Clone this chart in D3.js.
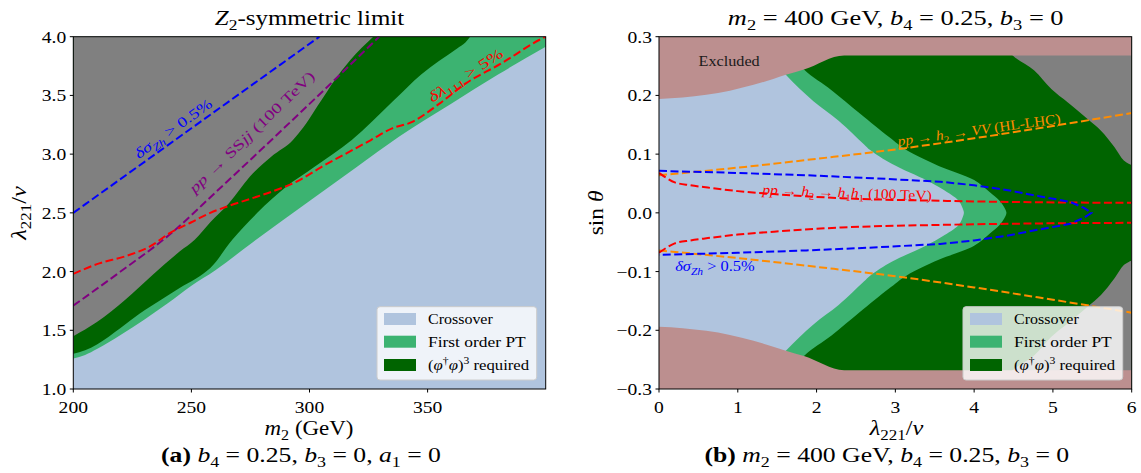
<!DOCTYPE html>
<html>
<head>
<meta charset="utf-8">
<script src="https://cdn.jsdelivr.net/npm/d3@7"></script>
<style>
  html, body { margin: 0; padding: 0; background: #ffffff; }
  svg { display: block; font-family: "Liberation Serif", "DejaVu Serif", serif; }
  text, tspan { font-family: "Liberation Serif", "DejaVu Serif", serif; }
</style>
</head>
<body>
<svg id="chart" width="1141" height="473" font-family="Liberation Serif, DejaVu Serif, serif"></svg>
<script>
// ---------------- DATA ----------------
// Left panel (m2 in GeV, lambda221/v)
const leftXTicks = [200, 250, 300, 350];
const leftYTicks = [1.0, 1.5, 2.0, 2.5, 3.0, 3.5, 4.0];
// crossover / first-order boundary
const lCrossM2  = [200, 205, 210, 220, 230, 240, 250, 260, 276, 300, 320, 338, 360, 380, 400];
const lCrossLam = [1.26, 1.29, 1.34, 1.46, 1.59, 1.73, 1.88, 2.01, 2.25, 2.6, 2.89, 3.15, 3.43, 3.68, 3.915];
// first-order / (phi^dag phi)^3 required boundary
const lReqM2  = [200, 205, 210, 220, 228, 238, 245, 252, 258, 267.3, 277.9, 290, 302, 317.9, 335.3, 347.4, 362.5, 366, 368];
const lReqLam = [1.30, 1.33, 1.38, 1.52, 1.64, 1.77, 1.86, 1.94, 2.03, 2.27, 2.50, 2.72, 2.89, 3.12, 3.45, 3.68, 3.9, 3.95, 4.0];
// (phi^dag phi)^3 required / grey boundary
const lGreyM2  = [200, 210, 222, 234, 245, 251.4, 258, 265.8, 274.8, 283.9, 293, 297.5, 302.1, 305.1, 309.6, 317.2, 327];
const lGreyLam = [1.45, 1.57, 1.76, 1.98, 2.17, 2.27, 2.42, 2.58, 2.81, 2.98, 3.12, 3.23, 3.37, 3.46, 3.6, 3.8, 4.0];
// dashed constraint lines
const lZhM2   = [200, 250, 304.2];
const lZhLam  = [2.5, 3.22, 4.0];
const lSSjjM2  = [200, 220, 241.7, 260, 287, 310, 329.5];
const lSSjjLam = [1.71, 2.0, 2.33, 2.67, 3.18, 3.62, 4.0];
const lTriM2  = [200, 211, 222, 233, 241, 250, 258, 266, 275, 284, 295, 305, 315, 326, 335, 343, 355, 366, 381, 398, 400];
const lTriLam = [1.98, 2.07, 2.13, 2.22, 2.33, 2.42, 2.5, 2.56, 2.62, 2.68, 2.77, 2.89, 3.0, 3.12, 3.22, 3.27, 3.43, 3.6, 3.77, 3.98, 4.0];

// Right panel (lambda221/v, sin theta) -- upper halves, mirrored in sin theta
const rightXTicks = [0, 1, 2, 3, 4, 5, 6];
const rightYTicks = [-0.3, -0.2, -0.1, 0.0, 0.1, 0.2, 0.3];
const rExclLam = [0, 0.3, 0.6, 0.9, 1.2, 1.45, 1.61, 1.84, 2.35, 6];
const rExclSin = [0.194, 0.1965, 0.201, 0.208, 0.218, 0.228, 0.235, 0.244, 0.268, 0.268];
const rCrossSin = [0.3, 0.235, 0.19, 0.157, 0.117, 0.107, 0.083, 0.055, 0.04, 0.021, 0.009, 0];
const rCrossLam = [1.2, 1.61, 1.96, 2.28, 2.6, 2.68, 2.96, 3.4, 3.6, 3.8, 3.85, 3.87];
const rReqSin = [0.3, 0.244, 0.209, 0.169, 0.129, 0.107, 0.08, 0.056, 0.035, 0.021, 0.01, 0];
const rReqLam = [1.5, 1.84, 2.19, 2.55, 2.92, 3.14, 3.55, 4.0, 4.2, 4.32, 4.38, 4.41];
const rGreyLam = [4.3, 4.49, 4.76, 4.98, 5.19, 5.44, 5.61, 5.78, 5.9, 6.0];
const rGreySin = [0.3, 0.268, 0.243, 0.211, 0.188, 0.160, 0.140, 0.112, 0.089, 0.081];
const rVVLam = [0, 1, 2, 3, 4, 5, 6];
const rVVSin = [0.064, 0.077, 0.092, 0.108, 0.127, 0.148, 0.17];
const rZhLam = [0, 1, 1.87, 2.72, 3.57, 4.0, 4.41, 4.84, 5.22, 5.4, 5.49];
const rZhSin = [0.0715, 0.068, 0.064, 0.059, 0.053, 0.047, 0.039, 0.028, 0.0187, 0.008, 0];
const rHHLam = [0, 0.1, 0.2, 0.4, 0.62, 1.0, 1.46, 2.31, 3.58, 4.5, 6];
const rHHSin = [0.068, 0.059, 0.052, 0.047, 0.043, 0.037, 0.032, 0.025, 0.0205, 0.0185, 0.017];

const legendLabels = ["Crossover", "First order PT", "(φ†φ)³ required"];

// ---------------- STYLE ----------------
const C = {
  cross: "#B0C4DE", fopt: "#3CB371", req: "#006400", grey: "#808080", excl: "#BC8F8F",
  blue: "#0000FF", purple: "#800080", red: "#FF0000", orange: "#FF8C00"
};
const DASH = "8,3.5";
const FONT = "Liberation Serif, DejaVu Serif, serif";
const TICK_FS = 17.5, TICK_SX = 1.12;

const svg = d3.select("#chart");
svg.append("rect").attr("width", 1141).attr("height", 473).attr("fill", "#fff");

function rich(text, parts, fs) {
  let cur = 0;
  text.attr("font-family", FONT).attr("font-size", fs);
  parts.forEach(p => {
    const s = p[0], st = p[1] || "";
    const sub = st.includes("_"), sup = st.includes("^");
    const target = sub ? 0.25 * fs : sup ? -0.4 * fs : 0;
    const t = text.append("tspan").text(s)
      .attr("dy", target - cur)
      .attr("font-size", (sub || sup) ? fs * 0.7 : fs);
    if (st.includes("i")) t.attr("font-style", "italic");
    if (st.includes("b")) t.attr("font-weight", "bold");
    cur = target;
  });
}
const zip = (a, b) => a.map((v, i) => [v, b[i]]);

function fitted(parent, x, y, rot, parts, fs, targetW, color, anchor) {
  const t = parent.append("text").attr("text-anchor", anchor || "middle");
  rich(t, parts, fs);
  if (color) { t.style("fill", color); t.selectAll("tspan").style("fill", color); }
  let sx = 1;
  if (targetW) {
    const w = t.node().getBBox().width;
    if (w > 0) sx = targetW / w;
  }
  t.attr("transform", `translate(${x},${y}) rotate(${rot || 0}) scale(${sx},1)`);
  return t;
}

// ---------------- LEFT PANEL ----------------
const L = { x0: 73.3, x1: 545.7, y0: 36.7, y1: 389 };
const xL = d3.scaleLinear().domain([200, 400]).range([L.x0, L.x1]);
const yL = d3.scaleLinear().domain([1, 4]).range([L.y1, L.y0]);

svg.append("clipPath").attr("id", "clipL").append("rect")
  .attr("x", L.x0).attr("y", L.y0).attr("width", L.x1 - L.x0).attr("height", L.y1 - L.y0);
svg.append("clipPath").attr("id", "clipR").append("rect")
  .attr("x", 659).attr("y", 36.7).attr("width", 1131.7 - 659).attr("height", 389 - 36.7);

const gL = svg.append("g").attr("clip-path", "url(#clipL)");
const lineL = d3.line().x(d => xL(d[0])).y(d => yL(d[1])).curve(d3.curveMonotoneX);

gL.append("rect").attr("x", L.x0).attr("y", L.y0).attr("width", L.x1 - L.x0).attr("height", L.y1 - L.y0)
  .attr("fill", C.cross);
function regionAbove(ms, ls, color) {
  const pts = zip(ms, ls);
  const last = pts[pts.length - 1];
  const d = lineL(pts) + "L" + xL(last[0]) + "," + yL(4) + "L" + xL(200) + "," + yL(4) + "Z";
  gL.append("path").attr("d", d).attr("fill", color);
}
regionAbove(lCrossM2, lCrossLam, C.fopt);
regionAbove(lReqM2, lReqLam, C.req);
regionAbove(lGreyM2, lGreyLam, C.grey);

[[lZhM2, lZhLam, C.blue], [lSSjjM2, lSSjjLam, C.purple], [lTriM2, lTriLam, C.red]].forEach(([m, l, c]) => {
  gL.append("path").attr("d", lineL(zip(m, l))).attr("fill", "none")
    .attr("stroke", c).attr("stroke-width", 2).attr("stroke-dasharray", DASH);
});

fitted(svg, xL(243.5), yL(3.227) + 5, -35.5, [["δσ", "i"], ["Zh", "i_"], [" > 0.5%"]], 14.5, 92, C.blue);
fitted(svg, xL(277), yL(3.2) + 5, -44, [["pp", "i"], [" → SS"], ["jj", "i"], [" (100 TeV)"]], 14.5, 170, C.purple);
fitted(svg, xL(367.2), yL(3.68) + 5, -33, [["δλ", "i"], ["111", "_"], [" > 5%"]], 14.5, 86, C.red);

function drawAxes(x0, x1, y0, y1, xs, ys, xt, yt, yfmt, xfmt) {
  const g = svg.append("g");
  g.append("rect").attr("x", x0).attr("y", y0).attr("width", x1 - x0).attr("height", y1 - y0)
    .attr("fill", "none").attr("stroke", "#000").attr("stroke-width", 1);
  xt.forEach(v => {
    const x = xs(v);
    g.append("line").attr("x1", x).attr("x2", x).attr("y1", y1).attr("y2", y1 + 3.5).attr("stroke", "#000").attr("stroke-width", 1);
    g.append("text").attr("transform", `translate(${x},${y1 + 24}) scale(${TICK_SX},1)`)
      .attr("text-anchor", "middle").attr("font-size", TICK_FS).attr("font-family", FONT).text(xfmt(v));
  });
  yt.forEach(v => {
    const y = ys(v);
    g.append("line").attr("x1", x0 - 3.5).attr("x2", x0).attr("y1", y).attr("y2", y).attr("stroke", "#000").attr("stroke-width", 1);
    g.append("text").attr("transform", `translate(${x0 - 7},${y + 6}) scale(${TICK_SX},1)`)
      .attr("text-anchor", "end").attr("font-size", TICK_FS).attr("font-family", FONT).text(yfmt(v));
  });
}
drawAxes(L.x0, L.x1, L.y0, L.y1, xL, yL, leftXTicks, leftYTicks, d3.format(".1f"), d3.format("d"));

function legend(x, y) {
  const g = svg.append("g").attr("transform", `translate(${x},${y})`);
  g.append("rect").attr("width", 159.7).attr("height", 73.3).attr("rx", 3)
    .attr("fill", "#fff").attr("fill-opacity", 0.8).attr("stroke", "#cccccc").attr("stroke-width", 1);
  const cols = [C.cross, C.fopt, C.req];
  const rows = [12.3, 35, 58.3];
  cols.forEach((c, i) => {
    g.append("rect").attr("x", 7).attr("y", rows[i] - 6).attr("width", 32).attr("height", 12).attr("fill", c);
  });
  const parts = [[[legendLabels[0]]], [[legendLabels[1]]],
    [["(", ""], ["φ", "i"], ["†", "^"], ["φ", "i"], [")"], ["3", "^"], [" required"]]];
  const widths = [65, 98, 102];
  parts.forEach((p, i) => fitted(g, 51, rows[i] + 5, 0, p, 14.5, widths[i], null, "start"));
}
legend(377, 306.7);

fitted(svg, 309.5, 25, 0, [["Z", "i"], ["2", "_"], ["-symmetric limit"]], 20, 190);
fitted(svg, 309, 435, 0, [["m", "i"], ["2", "_"], [" (GeV)"]], 20, 89);
fitted(svg, 26, 212.9, -90, [["λ", "i"], ["221", "_"], ["/"], ["v", "i"]], 20, 55);
fitted(svg, 301, 462, 0, [["(a)", "b"], [" "], ["b", "i"], ["4", "_"], [" = 0.25, "], ["b", "i"], ["3", "_"], [" = 0, "], ["a", "i"], ["1", "_"], [" = 0"]], 20, 280);

// ---------------- RIGHT PANEL ----------------
const R = { x0: 659, x1: 1131.7, y0: 36.7, y1: 389 };
const xR = d3.scaleLinear().domain([0, 6]).range([R.x0, R.x1]);
const yR = d3.scaleLinear().domain([-0.3, 0.3]).range([R.y1, R.y0]);
const gR = svg.append("g").attr("clip-path", "url(#clipR)");
const lineR = d3.line().x(d => xR(d[0])).y(d => yR(d[1])).curve(d3.curveCatmullRom);
const lineRm = d3.line().x(d => xR(d[0])).y(d => yR(d[1])).curve(d3.curveMonotoneX);
const lineRlin = d3.line().x(d => xR(d[0])).y(d => yR(d[1]));

gR.append("rect").attr("x", R.x0).attr("y", R.y0).attr("width", R.x1 - R.x0).attr("height", R.y1 - R.y0)
  .attr("fill", C.req);
function leftRegion(sins, lams, color) {
  const upper = zip(lams, sins);
  const lower = upper.slice(0, -1).reverse().map(p => [p[0], -p[1]]);
  const d = lineR(upper.concat(lower)) + "L" + xR(0) + "," + yR(-0.3) + "L" + xR(0) + "," + yR(0.3) + "Z";
  gR.append("path").attr("d", d).attr("fill", color);
}
leftRegion(rReqSin, rReqLam, C.fopt);
leftRegion(rCrossSin, rCrossLam, C.cross);
[1, -1].forEach(s => {
  const pts = zip(rGreyLam, rGreySin.map(v => s * v));
  gR.append("path").attr("d", lineR(pts) + "L" + xR(6) + "," + yR(s * 0.3) + "Z").attr("fill", C.grey);
});
[1, -1].forEach(s => {
  const pts = zip(rExclLam, rExclSin.map(v => s * v));
  const d = lineRm(pts) + "L" + xR(6) + "," + yR(s * 0.3) + "L" + xR(0) + "," + yR(s * 0.3) + "Z";
  gR.append("path").attr("d", d).attr("fill", C.excl);
});
[1, -1].forEach(s => {
  gR.append("path").attr("d", lineRm(zip(rVVLam, rVVSin.map(v => s * v)))).attr("fill", "none")
    .attr("stroke", C.orange).attr("stroke-width", 2).attr("stroke-dasharray", DASH);
  gR.append("path").attr("d", lineRm(zip(rHHLam, rHHSin.map(v => s * v)))).attr("fill", "none")
    .attr("stroke", C.red).attr("stroke-width", 2).attr("stroke-dasharray", DASH);
});
{
  const up = zip(rZhLam, rZhSin);
  const lo = up.slice(0, -1).reverse().map(p => [p[0], -p[1]]);
  gR.append("path").attr("d", lineRlin(up.concat(lo))).attr("fill", "none")
    .attr("stroke", C.blue).attr("stroke-width", 2).attr("stroke-dasharray", DASH);
}
fitted(svg, xR(0.89), yR(0.258) + 5, 0, [["Excluded"]], 14.5, 62, "#1a1a1a");
fitted(svg, xR(4.07), yR(0.142) + 5, -8, [["pp", "i"], [" → "], ["h", "i"], ["2", "_"], [" → "], ["VV", "i"], [" (HL-LHC)"]], 14, 166, C.orange);
fitted(svg, xR(2.386), yR(0.035) + 5, 2, [["pp", "i"], [" → "], ["h", "i"], ["2", "_"], [" → "], ["h", "i"], ["1", "_"], ["h", "i"], ["1", "_"], [" (100 TeV)"]], 14, 171, C.red);
fitted(svg, xR(0.71), yR(-0.091) + 5, 0, [["δσ", "i"], ["Zh", "i_"], [" > 0.5%"]], 14, 80, C.blue);

const minusFmt = v => (v < 0 ? "\u2212" : "") + d3.format(".1f")(Math.abs(v));
drawAxes(R.x0, R.x1, R.y0, R.y1, xR, yR, rightXTicks, rightYTicks, minusFmt, d3.format("d"));
legend(963, 306.7);

fitted(svg, 895.7, 25, 0, [["m", "i"], ["2", "_"], [" = 400 GeV, "], ["b", "i"], ["4", "_"], [" = 0.25, "], ["b", "i"], ["3", "_"], [" = 0"]], 20, 336);
fitted(svg, 896.6, 435, 0, [["λ", "i"], ["221", "_"], ["/"], ["v", "i"]], 20, 55);
fitted(svg, 603, 212.9, -90, [["sin "], ["θ", "i"]], 20, 45);
fitted(svg, 886.8, 462, 0, [["(b)", "b"], [" "], ["m", "i"], ["2", "_"], [" = 400 GeV, "], ["b", "i"], ["4", "_"], [" = 0.25, "], ["b", "i"], ["3", "_"], [" = 0"]], 20, 365);
</script>
</body>
</html>
